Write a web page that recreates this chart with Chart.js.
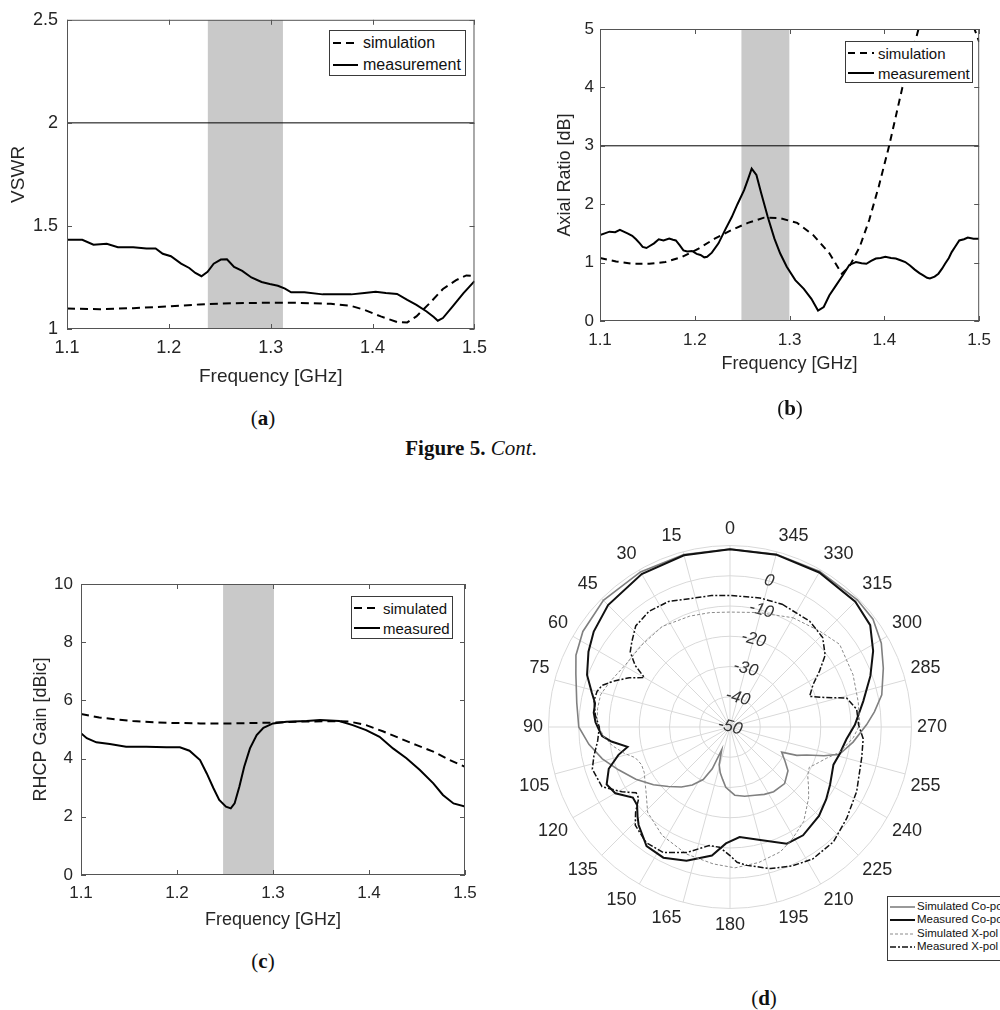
<!DOCTYPE html>
<html>
<head>
<meta charset="utf-8">
<title>Figure 5 (cont.)</title>
<script src="https://cdn.jsdelivr.net/npm/chart.js@4"></script>
<style>
  body { margin: 0; background: #fff; }
  #page { position: relative; width: 1000px; height: 1010px; overflow: hidden; background: #fff;
          font-family: 'Liberation Sans', Arial, sans-serif; color: #262626; }
  canvas { position: absolute; }
  .legend { position: absolute; border: 1px solid #3a3a3a; background: #fff; z-index: 2; box-sizing: border-box; }
  .cap { position: absolute; transform: translate(-50%, -50%); font-family: 'Liberation Serif', serif;
         white-space: nowrap; color: #111; }
</style>
</head>
<body>
<div id="page">
  <canvas id="chartA"></canvas>
  <canvas id="chartB"></canvas>
  <canvas id="chartC"></canvas>
  <canvas id="chartD"></canvas>
  <div class="cap" style="left:263px; top:418px; font-size:21px;">(<b>a</b>)</div>
  <div class="cap" style="left:790px; top:408px; font-size:21px;">(<b>b</b>)</div>
  <div class="cap" style="left:471px; top:448px; font-size:21px;"><b>Figure 5.</b> <i>Cont</i>.</div>
  <div class="cap" style="left:263px; top:961px; font-size:21px;">(<b>c</b>)</div>
  <div class="cap" style="left:764px; top:998px; font-size:21px;">(<b>d</b>)</div>
</div>
<script>
// ---- data: [frequency GHz, value] ----
const vswrSimulation = [
  [1.100, 1.099], [1.132, 1.096], [1.165, 1.101], [1.197, 1.109], [1.230, 1.119], [1.262, 1.125],
  [1.294, 1.127], [1.327, 1.127], [1.359, 1.122], [1.379, 1.112], [1.392, 1.093], [1.408, 1.061],
  [1.424, 1.034], [1.434, 1.032], [1.443, 1.061], [1.456, 1.125], [1.469, 1.194], [1.482, 1.237],
  [1.492, 1.260], [1.500, 1.256]
];
const vswrMeasurement = [
  [1.100, 1.433], [1.115, 1.433], [1.126, 1.409], [1.139, 1.413], [1.150, 1.397], [1.165, 1.397],
  [1.178, 1.391], [1.187, 1.391], [1.194, 1.365], [1.202, 1.353], [1.212, 1.317], [1.220, 1.296],
  [1.226, 1.272], [1.232, 1.256], [1.238, 1.277], [1.244, 1.317], [1.251, 1.337], [1.257, 1.338],
  [1.264, 1.301], [1.272, 1.282], [1.281, 1.250], [1.291, 1.228], [1.299, 1.218], [1.307, 1.210],
  [1.314, 1.196], [1.320, 1.178], [1.333, 1.178], [1.351, 1.168], [1.379, 1.168], [1.392, 1.175],
  [1.403, 1.181], [1.413, 1.175], [1.424, 1.170], [1.434, 1.141], [1.443, 1.117], [1.453, 1.085],
  [1.460, 1.058], [1.464, 1.040], [1.469, 1.053], [1.479, 1.112], [1.489, 1.173], [1.500, 1.232]
];

const arSimulation = [
  [1.100, 1.08], [1.117, 1.02], [1.135, 0.98], [1.152, 0.98], [1.169, 1.01], [1.187, 1.10],
  [1.204, 1.24], [1.221, 1.41], [1.239, 1.56], [1.256, 1.68], [1.273, 1.77], [1.290, 1.76],
  [1.308, 1.68], [1.325, 1.47], [1.342, 1.16], [1.355, 0.81], [1.363, 0.93], [1.374, 1.27],
  [1.384, 1.73], [1.394, 2.30], [1.405, 3.00], [1.412, 3.50], [1.419, 4.00], [1.428, 4.50],
  [1.436, 5.00], [1.450, 5.90], [1.465, 6.30], [1.482, 5.80], [1.495, 5.00], [1.500, 4.78]
];
const arMeasurement = [
  [1.100, 1.47], [1.105, 1.50], [1.110, 1.53], [1.116, 1.52], [1.121, 1.56], [1.125, 1.53],
  [1.129, 1.50], [1.134, 1.46], [1.138, 1.40], [1.142, 1.33], [1.145, 1.27], [1.149, 1.25],
  [1.152, 1.28], [1.157, 1.33], [1.162, 1.40], [1.167, 1.38], [1.173, 1.41], [1.177, 1.39],
  [1.180, 1.38], [1.184, 1.30], [1.188, 1.21], [1.192, 1.19], [1.197, 1.20], [1.202, 1.15],
  [1.206, 1.13], [1.210, 1.09], [1.213, 1.10], [1.218, 1.17], [1.225, 1.33], [1.232, 1.56],
  [1.239, 1.78], [1.245, 2.00], [1.252, 2.24], [1.256, 2.42], [1.260, 2.61], [1.265, 2.50],
  [1.270, 2.19], [1.277, 1.78], [1.284, 1.41], [1.290, 1.16], [1.297, 0.93], [1.306, 0.70],
  [1.315, 0.55], [1.323, 0.38], [1.330, 0.18], [1.336, 0.24], [1.342, 0.44], [1.349, 0.61],
  [1.356, 0.78], [1.363, 0.96], [1.370, 1.01], [1.376, 0.99], [1.381, 0.98], [1.386, 1.03],
  [1.391, 1.07], [1.396, 1.08], [1.401, 1.10], [1.407, 1.08], [1.412, 1.07], [1.417, 1.04],
  [1.422, 1.01], [1.427, 0.95], [1.432, 0.88], [1.437, 0.82], [1.441, 0.78], [1.445, 0.74],
  [1.448, 0.73], [1.453, 0.76], [1.457, 0.81], [1.461, 0.90], [1.464, 0.98], [1.468, 1.08],
  [1.471, 1.18], [1.475, 1.28], [1.479, 1.38], [1.484, 1.40], [1.488, 1.43], [1.494, 1.41],
  [1.500, 1.41]
];

const gainSimulated = [
  [1.100, 5.53], [1.119, 5.41], [1.154, 5.29], [1.189, 5.23], [1.224, 5.21], [1.258, 5.21],
  [1.293, 5.23], [1.328, 5.27], [1.362, 5.29], [1.380, 5.27], [1.397, 5.15], [1.415, 4.93],
  [1.432, 4.70], [1.449, 4.47], [1.467, 4.24], [1.484, 3.95], [1.500, 3.72]
];
const gainMeasured = [
  [1.100, 4.87], [1.106, 4.70], [1.116, 4.56], [1.130, 4.50], [1.147, 4.41], [1.168, 4.41],
  [1.189, 4.39], [1.203, 4.39], [1.213, 4.27], [1.224, 3.95], [1.231, 3.49], [1.238, 2.98],
  [1.244, 2.58], [1.251, 2.35], [1.256, 2.29], [1.260, 2.46], [1.265, 3.04], [1.270, 3.72],
  [1.276, 4.35], [1.283, 4.81], [1.290, 5.06], [1.300, 5.21], [1.314, 5.27], [1.335, 5.29],
  [1.349, 5.33], [1.369, 5.29], [1.383, 5.15], [1.397, 4.98], [1.411, 4.75], [1.425, 4.35],
  [1.439, 4.01], [1.453, 3.61], [1.467, 3.15], [1.477, 2.75], [1.488, 2.46], [1.500, 2.35]
];

// shaded bands [start, end] in GHz and threshold levels
const bandA = [1.238, 1.312];
const bandB = [1.249, 1.300];
const bandC = [1.248, 1.301];
const vswrLimit = 2;
const arLimit = 3;

// ---- polar pattern: [angle deg, dB] ----
const simCoPol = [
  [0, 8.8], [15, 9.0], [30, 9.2], [45, 9.2], [57, 8.0], [65, 6.2], [71, 3.9], [81, 1.3], [90, 0.0],
  [97, -3.0], [104, -6.5], [111, -10.5], [119, -14.4], [127, -18.3], [134, -21.7], [141, -24.5],
  [147, -27.1], [153, -30.5], [157, -35.0], [160, -42.0], [164, -37.0], [168, -34.5], [172, -32.5],
  [176, -30.0], [184, -27.4], [192, -26.6], [200, -26.0], [207, -25.0], [214, -24.2], [224, -24.0],
  [233, -26.0], [238, -28.5], [244, -31.0], [247, -26.0], [250, -23.0], [253, -17.5], [256, -12.7],
  [263, -9.0], [271, -4.8], [276, -2.0], [282, 1.3], [291, 4.3], [299, 7.2], [307, 9.2], [315, 9.5],
  [330, 9.4], [345, 9.1]
];
const measCoPol = [
  [0, 8.8], [15, 8.8], [30, 8.4], [45, 7.0], [55, 5.0], [62, 3.0], [70, 0.3], [76, -2.9], [80, -4.7],
  [84, -4.7], [88, -5.5], [91, -6.6], [94, -7.6], [97, -10.5], [101, -15.5], [104, -12.0], [109, -7.6],
  [115, -5.0], [120, -6.2], [126, -10.3], [130, -9.9], [134, -7.5], [137, -5.7], [145, -1.9],
  [153, -1.5], [162, -3.5], [172, -7.1], [178, -11.5], [185, -13.5], [195, -11.3], [206, -7.1],
  [214, -6.8], [225, -8.4], [233, -10.2], [240, -11.8], [250, -13.6], [256, -12.7], [264, -11.3],
  [271, -8.7], [281, -5.1], [290, -0.6], [298, 3.6], [306, 7.3], [315, 8.6], [330, 9.0], [345, 9.0]
];
const simXPol = [
  [0, -12.0], [10, -11.6], [20, -11.0], [34, -9.9], [47, -10.2], [59, -9.8], [70, -7.4], [76, -5.9],
  [82, -5.8], [88, -6.0], [94, -8.0], [99, -10.6], [104, -14.0], [108, -17.1], [113, -18.2],
  [118, -17.9], [123, -16.5], [128, -14.8], [136, -10.8], [148, -7.7], [161, -5.6], [173, -4.4],
  [182, -3.4], [192, -4.2], [202, -5.5], [209, -7.6], [218, -10.4], [228, -15.0], [233, -17.5],
  [238, -19.7], [243, -20.6], [248, -18.5], [252, -16.5], [257, -12.8], [265, -9.1], [271, -7.1],
  [281, -6.8], [293, -5.8], [307, -4.6], [317, -6.6], [330, -8.3], [346, -11.0]
];
const measXPol = [
  [0, -6.5], [8, -6.1], [15, -5.8], [26, -3.8], [35, -3.3], [43, -4.3], [49, -7.0], [53, -8.7],
  [57, -12.6], [60, -17.3], [64, -12.9], [68, -9.1], [72, -5.5], [75, -4.5], [79, -4.2], [85, -5.3],
  [90, -6.8], [96, -6.0], [102, -4.0], [107, -2.4], [115, -3.3], [121, -8.4], [125, -12.1],
  [128, -11.7], [132, -8.0], [136, -4.9], [144, -2.8], [152, -3.0], [161, -6.1], [170, -10.2],
  [175, -10.1], [180, -7.5], [183, -5.2], [187, -3.9], [196, -1.3], [204, 0.3], [212, 1.5],
  [222, 1.1], [232, -1.0], [243, -3.0], [257, -5.3], [265, -5.8], [271, -7.5], [278, -7.7],
  [284, -10.3], [287, -16.7], [291, -21.8], [297, -19.2], [302, -15.1], [307, -10.6], [314, -7.4],
  [323, -6.2], [337, -5.9], [347, -6.2]
];

// tick labels
const angleTicks = [0, 15, 30, 45, 60, 75, 90, 105, 120, 135, 150, 165, 180, 195, 210, 225, 240, 255, 270, 285, 300, 315, 330, 345];
const radialTicks = [-50, -40, -30, -20, -10, 0];

const labelsAB = ['simulation', 'measurement'];
const labelsC = ['simulated', 'measured'];
const labelsD = ['Simulated Co-pol', 'Measured Co-pol', 'Simulated X-pol', 'Measured X-pol'];

// ---- styles ----
const FONT = "'Liberation Sans', Arial, sans-serif";
const INK = '#262626';
const dashedStyle = { color: '#000', width: 2, dash: [8, 5] };
const solidStyle = { color: '#000', width: 2, dash: [] };
const polarStyles = [
  { color: '#808080', width: 1.6, dash: [] },
  { color: '#111', width: 2, dash: [] },
  { color: '#8a8a8a', width: 1, dash: [3, 2] },
  { color: '#111', width: 1.5, dash: [6, 2, 2, 2] }
];

const toXY = pts => pts.map(([x, y]) => ({ x, y }));

// box with inward ticks, like the original plots
const framePlugin = {
  id: 'frame',
  afterDatasetsDraw(chart) {
    const { ctx, chartArea: a, scales: { x, y } } = chart;
    ctx.save();
    ctx.strokeStyle = '#555';
    ctx.lineWidth = 1;
    ctx.strokeRect(a.left + 0.5, a.top + 0.5, a.right - a.left - 1, a.bottom - a.top - 1);
    ctx.beginPath();
    x.ticks.forEach(t => {
      const px = Math.round(x.getPixelForValue(t.value)) + 0.5;
      ctx.moveTo(px, a.bottom); ctx.lineTo(px, a.bottom - 5);
      ctx.moveTo(px, a.top); ctx.lineTo(px, a.top + 5);
    });
    y.ticks.forEach(t => {
      const py = Math.round(y.getPixelForValue(t.value)) + 0.5;
      ctx.moveTo(a.left, py); ctx.lineTo(a.left + 5, py);
      ctx.moveTo(a.right, py); ctx.lineTo(a.right - 5, py);
    });
    ctx.stroke();
    ctx.restore();
  }
};

function placeCanvas(id, box) {
  const c = document.getElementById(id);
  c.width = box.w; c.height = box.h;
  c.style.left = box.x + 'px'; c.style.top = box.y + 'px';
  return c;
}

function fmt(v) { return String(+Number(v).toFixed(2)); }

function lineChart(id, box, area, o) {
  const c = placeCanvas(id, box);
  const datasets = [
    { data: toXY([[o.band[0], o.yMax], [o.band[1], o.yMax]]), fill: 'start', backgroundColor: '#c9c9c9',
      borderWidth: 0, pointRadius: 0, order: 5, clip: 0 }
  ];
  if (o.limit != null) {
    datasets.push({ data: toXY([[1.1, o.limit], [1.5, o.limit]]), borderColor: '#000', borderWidth: 1,
      pointRadius: 0, fill: false, order: 4, clip: 0 });
  }
  datasets.push({ label: o.labels[0], data: toXY(o.sim), borderColor: dashedStyle.color, borderWidth: dashedStyle.width,
    borderDash: o.dash || dashedStyle.dash, pointRadius: 0, fill: false, order: 2, clip: 0 });
  datasets.push({ label: o.labels[1], data: toXY(o.meas), borderColor: solidStyle.color, borderWidth: solidStyle.width,
    pointRadius: 0, fill: false, order: 1, clip: 0 });

  return new Chart(c, {
    type: 'line',
    data: { datasets },
    options: {
      responsive: false,
      animation: false,
      layout: { padding: { top: area.t - box.y, right: box.x + box.w - area.r, left: 0, bottom: 0 } },
      plugins: { legend: { display: false }, tooltip: { enabled: false } },
      scales: {
        x: {
          type: 'linear', min: 1.1, max: 1.5,
          grid: { display: false, drawTicks: false }, border: { display: false },
          ticks: { stepSize: 0.1, callback: fmt, color: INK, padding: o.xTickPad,
                   font: { family: FONT, size: o.tickSize } },
          title: { display: true, text: 'Frequency [GHz]', color: INK,
                   font: { family: FONT, size: o.titleSize }, padding: { top: 0, bottom: o.xTitlePad } },
          afterFit: s => { s.height = box.y + box.h - area.b; }
        },
        y: {
          type: 'linear', min: o.yMin, max: o.yMax,
          grid: { display: false, drawTicks: false }, border: { display: false },
          ticks: { stepSize: o.yStep, callback: fmt, color: INK, padding: o.yTickPad,
                   font: { family: FONT, size: o.tickSize } },
          title: { display: true, text: o.yTitle, color: INK,
                   font: { family: FONT, size: o.titleSize }, padding: { top: o.yTitlePad, bottom: 0 } },
          afterFit: s => { s.width = area.l - box.x; }
        }
      }
    },
    plugins: [framePlugin]
  });
}

function htmlLegend(spec, labels, styles) {
  const page = document.getElementById('page');
  const box = document.createElement('div');
  box.className = 'legend';
  Object.assign(box.style, { left: spec.x + 'px', top: spec.y + 'px', width: spec.w + 'px', height: spec.h + 'px' });
  page.appendChild(box);
  labels.forEach((label, i) => {
    const st = styles[i];
    const cy = spec.rows[i] - spec.y - 1;
    const len = spec.lx1 - spec.lx0;
    const dash = st.dash.length ? ` stroke-dasharray="${st.dash.join(' ')}"` : '';
    box.insertAdjacentHTML('beforeend',
      `<svg style="position:absolute;left:${spec.lx0 - spec.x - 1}px;top:${cy - 4}px" width="${len}" height="8">` +
      `<line x1="0" y1="4" x2="${len}" y2="4" stroke="${st.color}" stroke-width="${st.width}"${dash}/></svg>`);
    const t = document.createElement('div');
    t.textContent = label;
    Object.assign(t.style, { position: 'absolute', left: (spec.tx - spec.x - 1) + 'px', top: cy + 'px',
      transform: 'translateY(-50%)', fontSize: spec.font + 'px', lineHeight: '1', whiteSpace: 'nowrap', color: '#111' });
    box.appendChild(t);
  });
}

// (a) VSWR
lineChart('chartA', { x: 0, y: 0, w: 495, h: 400 }, { l: 67, r: 478, t: 17, b: 329 }, {
  sim: vswrSimulation, meas: vswrMeasurement, labels: labelsAB, band: bandA, limit: vswrLimit,
  yMin: 1, yMax: 2.5, yStep: 0.5, yTitle: 'VSWR',
  tickSize: 18, titleSize: 19, xTickPad: 8, xTitlePad: 12, yTickPad: 9, yTitlePad: 7
});
htmlLegend({ x: 329, y: 30, w: 137, h: 46, rows: [43, 65], lx0: 333, lx1: 358, tx: 363, font: 16 },
  labelsAB, [dashedStyle, solidStyle]);

// (b) axial ratio
lineChart('chartB', { x: 505, y: 0, w: 495, h: 400 }, { l: 600, r: 985, t: 29, b: 321 }, {
  sim: arSimulation, meas: arMeasurement, labels: labelsAB, band: bandB, limit: arLimit, dash: [7, 5],
  yMin: 0, yMax: 5, yStep: 1, yTitle: 'Axial Ratio [dB]',
  tickSize: 17, titleSize: 18, xTickPad: 9, xTitlePad: 25, yTickPad: 6, yTitlePad: 49
});
htmlLegend({ x: 845, y: 41, w: 128, h: 42, rows: [53, 73], lx0: 848, lx1: 874, tx: 878, font: 15 },
  labelsAB, [{ ...dashedStyle, dash: [7, 5] }, solidStyle]);

// (c) RHCP gain
lineChart('chartC', { x: 0, y: 520, w: 490, h: 420 }, { l: 81, r: 465, t: 584, b: 875 }, {
  sim: gainSimulated, meas: gainMeasured, labels: labelsC, band: bandC, limit: null,
  yMin: 0, yMax: 10, yStep: 2, yTitle: 'RHCP Gain [dBic]',
  tickSize: 17, titleSize: 18, xTickPad: 8, xTitlePad: 9, yTickPad: 8, yTitlePad: 30
});
htmlLegend({ x: 351, y: 596, w: 102, h: 43, rows: [608, 628], lx0: 354, lx1: 380, tx: 383, font: 15 },
  labelsC, [dashedStyle, solidStyle]);

// (d) polar pattern: radar with one spoke per degree, angles counter-clockwise from top
const START = 345;                       // angle sitting at index 0 (15 deg clockwise from top)
const angleLabels = Array.from({ length: 360 }, (_, i) => (START - i + 360) % 360);
function toRadar(pts) {
  const arr = new Array(360).fill(null);
  pts.forEach(([a, v]) => { arr[(START - a + 360) % 360] = v; });
  return arr;
}
const polarSeries = [simCoPol, measCoPol, simXPol, measXPol];

new Chart(placeCanvas('chartD', { x: 517, y: 511, w: 433, h: 433 }), {
  type: 'radar',
  data: {
    labels: angleLabels,
    datasets: polarSeries.map((s, i) => ({
      label: labelsD[i], data: toRadar(s), spanGaps: true, fill: false, tension: 0,
      borderColor: polarStyles[i].color, borderWidth: polarStyles[i].width, borderDash: polarStyles[i].dash,
      pointRadius: 0, order: 4 - i
    }))
  },
  options: {
    responsive: false,
    animation: false,
    plugins: { legend: { display: false }, tooltip: { enabled: false } },
    scales: {
      r: {
        min: -50, max: 10, startAngle: 15,
        ticks: {
          stepSize: 10, showLabelBackdrop: false, color: '#333',
          font: { family: FONT, size: 17, style: 'italic' },
          callback: v => radialTicks.includes(v) ? String(v) : ''
        },
        grid: { circular: true, color: '#d9d9d9', lineWidth: 1 },
        angleLines: {
          color: '#d9d9d9',
          lineWidth: ctx => angleTicks.includes(angleLabels[ctx.index]) ? 1 : 0
        },
        pointLabels: {
          color: INK, padding: -5, font: { family: FONT, size: 18 },
          callback: label => angleTicks.includes(label) ? String(label) : ''
        }
      }
    }
  }
});
htmlLegend({ x: 887, y: 896, w: 140, h: 65, rows: [907, 920, 934, 947], lx0: 890, lx1: 915, tx: 917, font: 11.5 },
  labelsD, polarStyles);
</script>
</body>
</html>
